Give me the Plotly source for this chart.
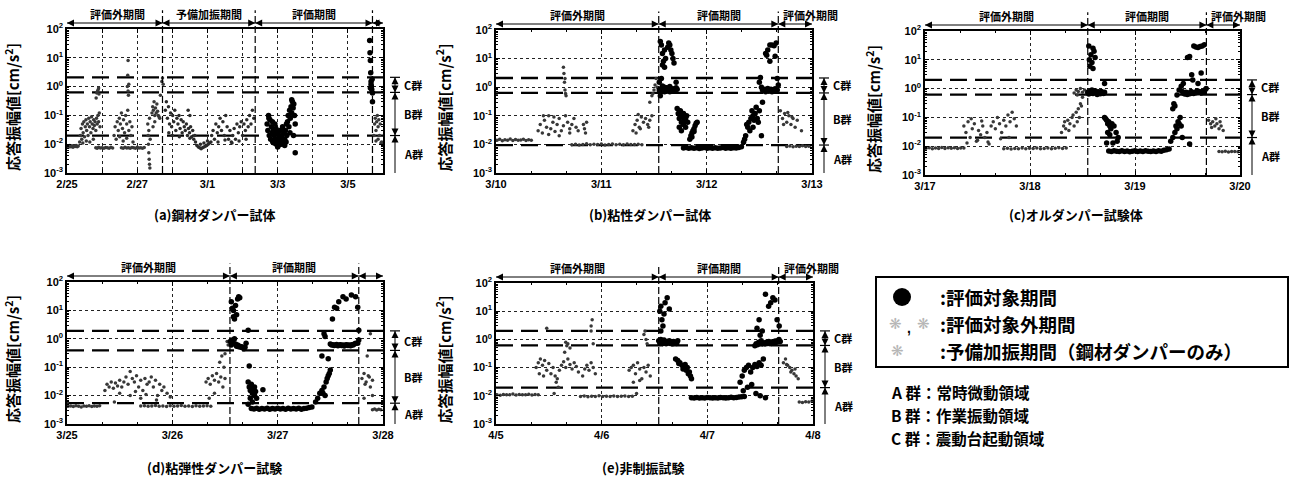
import math
import plotly.graph_objects as go

W, H = 1290, 486
JP = "Noto Sans CJK JP, Noto Sans, sans-serif"
NUM = "Liberation Sans Narrow, Liberation Sans, Arial, sans-serif"

# ---------------- data ----------------
# x = days from the first date label, y = response amplitude [cm/s^2]
A_TICKS = ["2/25", "", "2/27", "", "3/1", "", "3/3", "", "3/5", ""]
B_TICKS = ["3/10", "3/11", "3/12", "3/13"]
C_TICKS = ["3/17", "3/18", "3/19", "3/20"]
D_TICKS = ["3/25", "3/26", "3/27", "3/28"]
E_TICKS = ["4/5", "4/6", "4/7", "4/8"]

A_THR = [2.1, 0.63, 0.02]
B_THR = [2.1, 0.63, 0.0095]
C_THR = [2.0, 0.62, 0.02]
D_THR = [1.9, 0.39, 0.0054]
E_THR = [2.0, 0.61, 0.0195]

A_DIV = [2.72, 5.36, 8.7]
B_DIV = [1.545, 2.68]
C_DIV = [1.55, 2.68]
D_DIV = [1.547, 2.77]
E_DIV = [1.54, 2.675]

A_PERIODS = ["評価外期間", "予備加振期間", "評価期間", "評価外<br>期間"]
X_PERIODS = ["評価外期間", "評価期間", "評価外期間"]

A_OUT = [
    (0.02, 0.0085), (0.05, 0.008), (0.08, 0.009), (0.11, 0.0082), (0.14, 0.0088), (0.17, 0.0079),
    (0.2, 0.0086), (0.23, 0.0083), (0.26, 0.009), (0.29, 0.0081), (0.32, 0.0087),
    (0.36, 0.012), (0.38, 0.02), (0.4, 0.035), (0.42, 0.015), (0.44, 0.05), (0.46, 0.025), (0.48, 0.06),
    (0.5, 0.018), (0.52, 0.04), (0.54, 0.07), (0.56, 0.03), (0.58, 0.05), (0.6, 0.02), (0.62, 0.08),
    (0.64, 0.04), (0.66, 0.06), (0.68, 0.025), (0.7, 0.09), (0.72, 0.05), (0.74, 0.035), (0.76, 0.07),
    (0.78, 0.045), (0.8, 0.06), (0.82, 0.03), (0.84, 0.08), (0.86, 0.05), (0.88, 0.1), (0.9, 0.06),
    (0.92, 0.12), (0.94, 0.04), (0.45, 0.011), (0.55, 0.013), (0.65, 0.012), (0.75, 0.015),
    (0.83, 0.4), (0.85, 0.6), (0.87, 0.7), (0.89, 0.8), (0.9, 0.9), (0.91, 0.55),
    (0.82, 0.0075), (0.86, 0.0072), (0.9, 0.0078), (0.95, 0.0074), (1.0, 0.0076), (1.05, 0.0073),
    (1.1, 0.0077), (1.15, 0.0075), (1.2, 0.0072), (1.25, 0.0078), (1.3, 0.0074),
    (1.34, 0.02), (1.37, 0.04), (1.4, 0.015), (1.43, 0.06), (1.46, 0.03), (1.49, 0.08), (1.52, 0.05),
    (1.55, 0.12), (1.58, 0.035), (1.61, 0.07), (1.64, 0.025), (1.67, 0.1), (1.7, 0.05), (1.73, 0.15),
    (1.76, 0.03), (1.79, 0.06), (1.82, 0.02), (1.85, 0.04), (1.88, 0.012), (1.5, 0.018), (1.6, 0.013),
    (1.7, 0.016), (1.72, 1.0), (1.74, 0.7), (1.75, 0.5), (1.73, 2.5), (1.74, 8.0), (1.76, 1.2),
    (1.55, 0.0075), (1.6, 0.0072), (1.65, 0.0078), (1.7, 0.0074), (1.75, 0.0076), (1.8, 0.0073),
    (1.85, 0.0077), (1.9, 0.0075), (1.95, 0.0072), (2.0, 0.0078), (2.05, 0.0074), (2.1, 0.0076),
    (2.15, 0.0073), (2.2, 0.0077),
    (2.3, 0.05), (2.31, 0.02), (2.32, 0.01), (2.33, 0.005), (2.34, 0.003), (2.35, 0.002), (2.36, 0.0015),
    (2.33, 0.03), (2.35, 0.08), (2.37, 0.015),
    (2.42, 0.12), (2.44, 0.2), (2.46, 0.15), (2.48, 0.3), (2.5, 0.1), (2.52, 0.18), (2.54, 0.12),
    (2.56, 0.25), (2.58, 0.14), (2.6, 0.1), (2.62, 0.09), (2.64, 0.08), (2.45, 0.04), (2.5, 0.06),
    (2.66, 0.5), (2.7, 1.5), (2.72, 2.0), (2.74, 1.2),
    (8.74, 0.02), (8.76, 0.05), (8.78, 0.08), (8.8, 0.03), (8.82, 0.06), (8.84, 0.1), (8.86, 0.04),
    (8.88, 0.07), (8.9, 0.02), (8.92, 0.05), (8.94, 0.011), (8.96, 0.012), (8.98, 0.01), (8.8, 0.013),
    (8.86, 0.015),
]
A_PRE = [
    (2.8, 0.15), (2.83, 0.3), (2.86, 0.08), (2.89, 0.2), (2.92, 0.05), (2.95, 0.12), (2.98, 0.04),
    (3.01, 0.1), (3.04, 0.06), (3.07, 0.15), (3.1, 0.03), (3.13, 0.08), (3.16, 0.05), (3.19, 0.1),
    (3.22, 0.035), (3.25, 0.07), (3.28, 0.025), (3.31, 0.06), (3.34, 0.04), (3.37, 0.03), (3.4, 0.05),
    (3.43, 0.02), (3.46, 0.035), (3.49, 0.025), (3.52, 0.04), (3.55, 0.018), (3.58, 0.03), (3.61, 0.015),
    (3.64, 0.02), (2.9, 0.025), (3.0, 0.02), (3.2, 0.018), (3.5, 0.016), (3.45, 0.15), (3.5, 0.1),
    (3.66, 0.012), (3.7, 0.009), (3.74, 0.008), (3.78, 0.0075), (3.82, 0.007), (3.86, 0.0075),
    (3.9, 0.008), (3.94, 0.0085), (3.98, 0.009), (4.02, 0.01), (4.06, 0.011), (4.1, 0.012),
    (3.8, 0.01), (3.9, 0.011), (4.0, 0.013),
    (4.12, 0.02), (4.16, 0.03), (4.2, 0.015), (4.24, 0.05), (4.28, 0.025), (4.32, 0.04), (4.36, 0.08),
    (4.4, 0.03), (4.44, 0.06), (4.48, 0.02), (4.52, 0.1), (4.56, 0.04), (4.6, 0.015), (4.64, 0.03),
    (4.68, 0.012), (4.72, 0.02), (4.76, 0.035), (4.8, 0.015), (4.84, 0.05), (4.88, 0.025), (4.92, 0.04),
    (4.96, 0.06), (5.0, 0.02), (5.04, 0.05), (5.08, 0.03), (5.12, 0.07), (5.16, 0.04), (5.2, 0.1),
    (5.24, 0.05), (5.28, 0.15), (5.32, 0.08), (4.3, 0.012), (4.5, 0.014), (4.7, 0.011), (4.9, 0.013),
    (5.1, 0.015),
]
A_EVAL = [
    (5.7, 0.05), (5.72, 0.03), (5.74, 0.1), (5.76, 0.02), (5.78, 0.07), (5.8, 0.015), (5.82, 0.04),
    (5.84, 0.025), (5.86, 0.012), (5.88, 0.03), (5.9, 0.02), (5.92, 0.05), (5.94, 0.015), (5.96, 0.01),
    (5.98, 0.025), (6.0, 0.012), (6.02, 0.009), (6.04, 0.02), (6.06, 0.03), (6.08, 0.015), (6.1, 0.01),
    (6.12, 0.02), (6.14, 0.04), (6.16, 0.012), (6.18, 0.025), (6.2, 0.015), (6.22, 0.03), (6.24, 0.012),
    (6.26, 0.02), (5.75, 0.08), (5.85, 0.06), (5.95, 0.035), (6.05, 0.015), (6.15, 0.03), (6.25, 0.05),
    (5.9, 0.011), (6.0, 0.008), (6.1, 0.018), (6.2, 0.009),
    (6.28, 0.06), (6.3, 0.1), (6.32, 0.04), (6.34, 0.15), (6.36, 0.08), (6.38, 0.2), (6.4, 0.12),
    (6.42, 0.3), (6.44, 0.18), (6.46, 0.25), (6.48, 0.1), (6.5, 0.05), (6.35, 0.025), (6.45, 0.02),
    (6.4, 0.35), (6.5, 0.005),
    (8.62, 40), (8.63, 15), (8.64, 8), (8.65, 3), (8.66, 1.5), (8.67, 1.0), (8.68, 0.8), (8.69, 1.8),
    (8.7, 0.3), (8.64, 0.9), (8.66, 1.2), (8.7, 0.6),
]

B_OUT = [
    (0.01, 0.014), (0.035, 0.015), (0.06, 0.0135), (0.085, 0.0145), (0.11, 0.014), (0.135, 0.0155),
    (0.16, 0.0138), (0.185, 0.0148), (0.21, 0.014), (0.235, 0.0142), (0.26, 0.015), (0.285, 0.0136),
    (0.31, 0.0145), (0.335, 0.014), (0.005, 0.6),
    (0.4, 0.03), (0.42, 0.05), (0.44, 0.025), (0.46, 0.07), (0.48, 0.04), (0.5, 0.1), (0.52, 0.035),
    (0.54, 0.06), (0.56, 0.028), (0.58, 0.05), (0.6, 0.08), (0.62, 0.03), (0.64, 0.045), (0.66, 0.1),
    (0.68, 0.06), (0.7, 0.035), (0.72, 0.05), (0.74, 0.08), (0.76, 0.04), (0.78, 0.03), (0.5, 0.022),
    (0.6, 0.02), (0.45, 0.1), (0.55, 0.09), (0.7, 0.025), (0.83, 0.05), (0.84, 0.035), (0.85, 0.025),
    (0.86, 0.06),
    (0.64, 5.0), (0.645, 3.0), (0.65, 1.5), (0.655, 0.8), (0.66, 0.6), (0.665, 0.5), (0.655, 2.0),
    (0.72, 0.0098), (0.755, 0.0102), (0.79, 0.0095), (0.825, 0.01), (0.86, 0.0105), (0.895, 0.0097),
    (0.93, 0.0101), (0.965, 0.0099), (1.0, 0.0104), (1.035, 0.0096), (1.07, 0.01), (1.105, 0.0103),
    (1.14, 0.0098), (1.175, 0.0101), (1.21, 0.0097), (1.245, 0.0104), (1.28, 0.01), (1.315, 0.0099),
    (1.35, 0.0102), (1.385, 0.0097),
    (1.3, 0.03), (1.32, 0.05), (1.34, 0.07), (1.36, 0.04), (1.38, 0.09), (1.4, 0.06), (1.42, 0.08),
    (1.44, 0.05), (1.46, 0.07), (1.48, 0.1), (1.33, 0.025), (1.37, 0.035), (1.45, 0.04), (1.35, 0.11),
    (1.46, 0.3), (1.48, 0.5), (1.5, 0.8), (1.51, 1.2), (1.52, 2.0), (1.49, 0.6), (1.53, 1.0),
    (2.7, 0.15), (2.72, 0.08), (2.74, 0.12), (2.76, 0.06), (2.78, 0.1), (2.8, 0.05), (2.82, 0.08),
    (2.84, 0.04), (2.86, 0.07), (2.73, 0.05), (2.77, 0.13), (2.81, 0.09), (2.9, 0.03),
    (2.76, 0.0085), (2.79, 0.0088), (2.82, 0.0083), (2.85, 0.0087), (2.88, 0.0084), (2.91, 0.0089),
    (2.94, 0.0085), (2.97, 0.0086),
]
B_EVAL = [
    (1.55, 0.8), (1.56, 0.7), (1.57, 0.9), (1.58, 0.75), (1.59, 0.85), (1.6, 0.7), (1.61, 0.8),
    (1.62, 0.72), (1.63, 0.9), (1.64, 0.78), (1.65, 0.7), (1.66, 0.82), (1.67, 0.75), (1.68, 0.88),
    (1.69, 0.72), (1.7, 0.8), (1.71, 0.95), (1.72, 0.85), (1.55, 1.5), (1.56, 0.5), (1.57, 2.0),
    (1.58, 1.1), (1.6, 1.0), (1.62, 0.95), (1.65, 1.05),
    (1.56, 40), (1.57, 30), (1.58, 15), (1.59, 8), (1.6, 5), (1.61, 10), (1.6, 20), (1.58, 6),
    (1.64, 35), (1.65, 30), (1.66, 20), (1.67, 15), (1.68, 10), (1.69, 7), (1.63, 25), (1.71, 1.5),
    (1.72, 0.18), (1.73, 0.12), (1.74, 0.08), (1.75, 0.1), (1.76, 0.06), (1.77, 0.09), (1.78, 0.05),
    (1.79, 0.07), (1.8, 0.04), (1.81, 0.1), (1.74, 0.04), (1.76, 0.03), (1.75, 0.15), (1.78, 0.12),
    (1.8, 0.08), (1.82, 0.06),
    (1.84, 0.015), (1.85, 0.02), (1.86, 0.025), (1.87, 0.03), (1.88, 0.035), (1.89, 0.045), (1.9, 0.055),
    (1.91, 0.06), (1.86, 0.018), (1.88, 0.028),
    (1.78, 0.0075), (1.805, 0.0078), (1.83, 0.0073), (1.855, 0.0076), (1.88, 0.0074), (1.905, 0.0077),
    (1.93, 0.0072), (1.955, 0.0075), (1.98, 0.0078), (2.005, 0.0073), (2.03, 0.0076), (2.055, 0.0074),
    (2.08, 0.0077), (2.105, 0.0073), (2.13, 0.0075), (2.155, 0.0078), (2.18, 0.0074), (2.205, 0.0076),
    (2.23, 0.0073), (2.255, 0.0077), (2.28, 0.0075), (2.305, 0.0078), (2.33, 0.0082),
    (2.35, 0.012), (2.37, 0.02), (2.39, 0.04), (2.4, 0.06), (2.42, 0.08), (2.44, 0.1), (2.46, 0.12),
    (2.48, 0.08), (2.5, 0.15), (2.38, 0.05), (2.41, 0.03), (2.43, 0.15), (2.45, 0.07), (2.47, 0.2),
    (2.49, 0.06), (2.36, 0.015), (2.44, 0.04), (2.52, 0.02), (2.53, 0.3),
    (2.5, 1.5), (2.51, 2.2), (2.52, 1.0), (2.53, 0.8), (2.54, 0.75), (2.55, 0.85), (2.56, 0.7),
    (2.57, 0.8), (2.58, 0.9), (2.59, 0.72), (2.6, 0.78), (2.61, 0.85), (2.62, 0.7), (2.63, 0.8),
    (2.64, 0.75), (2.65, 0.88), (2.66, 0.72), (2.67, 0.8), (2.68, 1.2),
    (2.56, 15), (2.57, 13), (2.58, 20), (2.6, 30), (2.62, 30), (2.64, 28), (2.66, 35), (2.6, 8),
    (2.65, 12), (2.67, 2.0),
]

C_OUT = [
    (0.01, 0.0085), (0.04, 0.0088), (0.07, 0.0082), (0.1, 0.0087), (0.13, 0.0084), (0.16, 0.009),
    (0.19, 0.0083), (0.22, 0.0088), (0.25, 0.0085), (0.28, 0.0089), (0.31, 0.0084), (0.34, 0.0087),
    (0.37, 0.0086),
    (0.37, 0.05), (0.39, 0.03), (0.41, 0.07), (0.43, 0.02), (0.45, 0.04), (0.47, 0.06), (0.49, 0.015),
    (0.51, 0.035), (0.53, 0.025), (0.55, 0.05), (0.57, 0.02), (0.59, 0.03), (0.61, 0.012), (0.63, 0.05),
    (0.65, 0.07), (0.67, 0.04), (0.69, 0.1), (0.71, 0.06), (0.73, 0.03), (0.75, 0.08), (0.77, 0.05),
    (0.79, 0.12), (0.81, 0.07), (0.83, 0.15), (0.85, 0.09), (0.87, 0.05), (0.4, 0.013), (0.5, 0.016),
    (0.6, 0.014), (0.72, 0.018), (0.44, 0.09), (0.54, 0.075), (0.8, 0.02),
    (0.75, 0.0082), (0.785, 0.0085), (0.82, 0.008), (0.855, 0.0084), (0.89, 0.0081), (0.925, 0.0086),
    (0.96, 0.0082), (0.995, 0.0085), (1.03, 0.0083), (1.065, 0.0087), (1.1, 0.0081), (1.135, 0.0084),
    (1.17, 0.0086), (1.205, 0.0082), (1.24, 0.0085), (1.275, 0.0088), (1.31, 0.0084), (1.345, 0.0086),
    (1.3, 0.03), (1.32, 0.05), (1.34, 0.04), (1.36, 0.08), (1.38, 0.06), (1.4, 0.1), (1.42, 0.05),
    (1.44, 0.15), (1.46, 0.2), (1.48, 0.3), (1.5, 0.5), (1.33, 0.07), (1.37, 0.035), (1.41, 0.12),
    (1.45, 0.07), (1.47, 0.1), (1.49, 0.25),
    (1.42, 0.7), (1.44, 0.9), (1.46, 0.8), (1.48, 1.0), (1.5, 0.75), (1.52, 0.9), (1.54, 0.7), (1.45, 0.6),
    (2.7, 0.08), (2.72, 0.06), (2.74, 0.07), (2.76, 0.05), (2.78, 0.06), (2.8, 0.04), (2.82, 0.05),
    (2.84, 0.035), (2.73, 0.045), (2.77, 0.09), (2.81, 0.07),
    (2.8, 0.0066), (2.83, 0.0064), (2.86, 0.0067), (2.89, 0.0063), (2.92, 0.0066), (2.95, 0.0065),
    (2.98, 0.0064),
]
C_EVAL = [
    (1.56, 30), (1.565, 10), (1.57, 6), (1.58, 15), (1.59, 8), (1.6, 25), (1.61, 20), (1.62, 12), (1.6, 5),
    (1.55, 0.75), (1.56, 0.65), (1.57, 0.8), (1.58, 0.7), (1.59, 0.9), (1.6, 0.68), (1.61, 0.75),
    (1.62, 0.85), (1.63, 0.7), (1.64, 0.62), (1.65, 0.78), (1.66, 0.7), (1.67, 0.66), (1.68, 0.8),
    (1.69, 0.72), (1.7, 0.68), (1.71, 0.75), (1.71, 1.5),
    (1.71, 0.1), (1.72, 0.09), (1.73, 0.08), (1.74, 0.06), (1.75, 0.07), (1.76, 0.05), (1.77, 0.04),
    (1.78, 0.06), (1.8, 0.05), (1.82, 0.03), (1.84, 0.02), (1.74, 0.03), (1.76, 0.025), (1.73, 0.013),
    (1.79, 0.013), (1.83, 0.015),
    (1.75, 0.0068), (1.775, 0.0066), (1.8, 0.007), (1.825, 0.0067), (1.85, 0.0065), (1.875, 0.0069),
    (1.9, 0.0066), (1.925, 0.0068), (1.95, 0.0064), (1.975, 0.0067), (2.0, 0.0069), (2.025, 0.0065),
    (2.05, 0.0068), (2.075, 0.0066), (2.1, 0.007), (2.125, 0.0067), (2.15, 0.0065), (2.175, 0.0068),
    (2.2, 0.0066), (2.225, 0.0069), (2.25, 0.0067), (2.275, 0.0072), (2.3, 0.0075), (2.325, 0.008),
    (2.34, 0.015), (2.36, 0.02), (2.38, 0.03), (2.39, 0.05), (2.4, 0.04), (2.41, 0.07), (2.42, 0.06),
    (2.43, 0.1), (2.44, 0.05), (2.36, 0.2), (2.37, 0.3), (2.38, 0.25), (2.4, 0.6), (2.42, 0.9),
    (2.44, 1.2), (2.46, 1.5), (2.45, 0.02), (2.52, 0.012),
    (2.45, 0.8), (2.462, 0.7), (2.474, 0.65), (2.486, 0.75), (2.498, 0.62), (2.51, 0.7), (2.522, 0.66),
    (2.534, 0.8), (2.546, 0.72), (2.558, 0.68), (2.57, 0.75), (2.582, 0.7), (2.594, 0.85), (2.606, 0.72),
    (2.618, 0.78), (2.63, 0.7), (2.642, 0.8), (2.654, 0.75), (2.666, 0.9), (2.678, 1.0),
    (2.5, 12), (2.52, 13), (2.54, 3), (2.56, 30), (2.58, 28), (2.6, 27), (2.62, 29), (2.64, 30),
    (2.66, 33), (2.55, 2.0), (2.63, 3.5), (2.6, 1.5),
]

D_OUT = [
    (0.005, 0.006), (0.01, 0.0042), (0.035, 0.0043), (0.06, 0.0041), (0.085, 0.0044), (0.11, 0.0042),
    (0.135, 0.004), (0.16, 0.0043), (0.185, 0.0042), (0.21, 0.0044), (0.235, 0.0041), (0.26, 0.0043),
    (0.285, 0.0042), (0.31, 0.0044),
    (0.36, 0.015), (0.38, 0.025), (0.4, 0.02), (0.42, 0.03), (0.44, 0.018), (0.46, 0.028), (0.48, 0.022),
    (0.5, 0.035), (0.52, 0.02), (0.54, 0.03), (0.56, 0.045), (0.58, 0.025), (0.6, 0.07), (0.62, 0.04),
    (0.64, 0.03), (0.66, 0.05), (0.68, 0.02), (0.7, 0.035), (0.72, 0.015), (0.74, 0.04), (0.76, 0.025),
    (0.78, 0.03), (0.8, 0.045), (0.82, 0.02), (0.84, 0.035), (0.86, 0.01), (0.88, 0.025), (0.9, 0.015),
    (0.92, 0.02), (0.95, 0.012), (0.98, 0.009), (0.5, 0.012), (0.6, 0.01), (0.7, 0.008), (0.45, 0.006),
    (0.65, 0.014), (0.75, 0.011), (0.85, 0.007),
    (0.7, 0.0043), (0.735, 0.0044), (0.77, 0.0042), (0.805, 0.0043), (0.84, 0.0045), (0.875, 0.0042),
    (0.91, 0.0043), (0.945, 0.0041), (0.98, 0.0044), (1.015, 0.0042), (1.05, 0.0043), (1.085, 0.0045),
    (1.12, 0.0042), (1.155, 0.0043), (1.19, 0.0041), (1.225, 0.0044), (1.26, 0.0042), (1.295, 0.0043),
    (1.33, 0.0044), (1.365, 0.0042),
    (1.32, 0.03), (1.34, 0.04), (1.36, 0.025), (1.38, 0.05), (1.4, 0.035), (1.42, 0.06), (1.44, 0.03),
    (1.46, 0.045), (1.48, 0.02), (1.5, 0.04), (1.35, 0.008), (1.4, 0.012), (1.45, 0.15), (1.47, 0.25),
    (1.5, 0.3), (1.52, 0.8), (1.53, 0.6), (1.49, 0.1),
    (2.8, 0.04), (2.82, 0.06), (2.84, 0.03), (2.86, 0.05), (2.88, 0.02), (2.9, 0.035), (2.83, 0.025),
    (2.87, 0.045), (2.85, 0.25), (2.88, 1.5), (2.82, 0.008), (2.9, 0.01),
    (2.9, 0.0032), (2.92, 0.0034), (2.94, 0.0031), (2.96, 0.0033), (2.98, 0.0032),
]
D_EVAL = [
    (1.56, 20), (1.57, 12), (1.58, 6), (1.59, 5), (1.6, 15), (1.62, 25), (1.63, 30), (1.64, 28),
    (1.61, 7), (1.58, 10),
    (1.55, 0.8), (1.56, 0.6), (1.57, 0.9), (1.58, 0.7), (1.59, 1.0), (1.6, 0.65), (1.61, 0.55),
    (1.62, 0.6), (1.63, 0.52), (1.64, 0.55), (1.65, 0.5), (1.66, 0.52), (1.67, 0.48), (1.68, 0.45),
    (1.69, 0.5), (1.7, 0.7), (1.72, 2.0), (1.73, 0.11),
    (1.72, 0.03), (1.73, 0.02), (1.74, 0.015), (1.75, 0.025), (1.76, 0.012), (1.77, 0.018), (1.78, 0.01),
    (1.79, 0.014), (1.8, 0.008), (1.74, 0.008), (1.76, 0.006), (1.72, 0.005), (1.78, 0.02), (1.86, 0.016),
    (1.75, 0.0035), (1.775, 0.0034), (1.8, 0.0036), (1.825, 0.0033), (1.85, 0.0035), (1.875, 0.0034),
    (1.9, 0.0036), (1.925, 0.0033), (1.95, 0.0035), (1.975, 0.0034), (2.0, 0.0036), (2.025, 0.0034),
    (2.05, 0.0035), (2.075, 0.0033), (2.1, 0.0036), (2.125, 0.0034), (2.15, 0.0035), (2.175, 0.0034),
    (2.2, 0.0036), (2.225, 0.0033), (2.25, 0.0035), (2.275, 0.0036), (2.3, 0.0038), (2.325, 0.004),
    (2.36, 0.006), (2.38, 0.008), (2.4, 0.012), (2.42, 0.015), (2.44, 0.02), (2.46, 0.03), (2.48, 0.05),
    (2.5, 0.08), (2.49, 0.06), (2.47, 0.04), (2.45, 0.01), (2.43, 0.012),
    (2.42, 0.25), (2.48, 0.2), (2.45, 1.2), (2.44, 1.5),
    (2.5, 0.65), (2.512, 0.6), (2.524, 0.62), (2.536, 0.58), (2.548, 0.6), (2.56, 0.63), (2.572, 0.57),
    (2.584, 0.6), (2.596, 0.62), (2.608, 0.58), (2.62, 0.6), (2.632, 0.56), (2.644, 0.6), (2.656, 0.62),
    (2.668, 0.58), (2.68, 0.6), (2.692, 0.57), (2.704, 0.62), (2.716, 0.6), (2.728, 0.65), (2.74, 0.7),
    (2.52, 5), (2.54, 13), (2.56, 12), (2.58, 20), (2.62, 30), (2.65, 25), (2.7, 35), (2.74, 30),
    (2.76, 13), (2.77, 2.0), (2.76, 0.7), (2.77, 0.9),
]

E_OUT = [
    (0.01, 0.011), (0.04, 0.0105), (0.07, 0.0112), (0.1, 0.0108), (0.13, 0.011), (0.16, 0.0115),
    (0.19, 0.0106), (0.22, 0.0112), (0.25, 0.0109), (0.28, 0.011), (0.31, 0.0114), (0.34, 0.0107),
    (0.37, 0.0111), (0.4, 0.011),
    (0.38, 0.1), (0.4, 0.15), (0.42, 0.2), (0.44, 0.12), (0.46, 0.18), (0.48, 0.08), (0.5, 0.14),
    (0.52, 0.06), (0.54, 0.1), (0.56, 0.05), (0.58, 0.04), (0.6, 0.08), (0.62, 0.12), (0.64, 0.16),
    (0.66, 0.1), (0.68, 0.2), (0.7, 0.13), (0.72, 0.09), (0.74, 0.15), (0.76, 0.11), (0.78, 0.07),
    (0.82, 0.05), (0.84, 0.09), (0.86, 0.12), (0.88, 0.08), (0.9, 0.15), (0.92, 0.1), (0.94, 0.06),
    (0.41, 0.06), (0.45, 0.05), (0.57, 0.03), (0.59, 0.02), (0.55, 0.012),
    (0.48, 2.5), (0.66, 0.8), (0.67, 0.6), (0.68, 0.7), (0.7, 0.5), (0.65, 0.35), (0.9, 3.0), (0.91, 5.0),
    (0.92, 0.7), (0.9, 2.0),
    (0.8, 0.0095), (0.835, 0.0098), (0.87, 0.0093), (0.905, 0.0097), (0.94, 0.0095), (0.975, 0.01),
    (1.01, 0.0094), (1.045, 0.0097), (1.08, 0.0095), (1.115, 0.0099), (1.15, 0.0094), (1.185, 0.0096),
    (1.22, 0.0098), (1.255, 0.0095), (1.29, 0.0097),
    (1.26, 0.08), (1.28, 0.1), (1.3, 0.12), (1.32, 0.06), (1.34, 0.15), (1.36, 0.09), (1.38, 0.04),
    (1.4, 0.1), (1.42, 0.07), (1.44, 0.12), (1.46, 0.05), (1.3, 0.03), (1.36, 0.035), (1.33, 0.012),
    (1.4, 1.5), (1.42, 1.0), (1.43, 0.7), (1.41, 2.0),
    (2.72, 0.15), (2.74, 0.2), (2.76, 0.12), (2.78, 0.1), (2.8, 0.08), (2.82, 0.06), (2.84, 0.05),
    (2.86, 0.04), (2.75, 0.13), (2.79, 0.07), (2.83, 0.09),
    (2.87, 0.006), (2.9, 0.0058), (2.93, 0.0062), (2.96, 0.006), (2.99, 0.0065),
]
E_EVAL = [
    (1.55, 10), (1.56, 15), (1.57, 5), (1.58, 3), (1.59, 8), (1.6, 20), (1.62, 30), (1.64, 12), (1.56, 2.0),
    (1.54, 0.9), (1.55, 0.75), (1.56, 1.0), (1.57, 0.8), (1.58, 0.72), (1.59, 0.95), (1.6, 0.78),
    (1.61, 0.7), (1.62, 0.85), (1.63, 0.75), (1.64, 0.9), (1.65, 0.72), (1.66, 0.8), (1.67, 0.7),
    (1.68, 0.85), (1.69, 0.75), (1.7, 0.8), (1.71, 0.72), (1.72, 0.9),
    (1.7, 0.2), (1.72, 0.18), (1.74, 0.15), (1.76, 0.12), (1.78, 0.1), (1.8, 0.08), (1.82, 0.06),
    (1.84, 0.05), (1.85, 0.04), (1.73, 0.14), (1.77, 0.09), (1.81, 0.1), (1.83, 0.07), (1.79, 0.13),
    (1.85, 0.0085), (1.875, 0.0083), (1.9, 0.0087), (1.925, 0.0084), (1.95, 0.0086), (1.975, 0.0083),
    (2.0, 0.0087), (2.025, 0.0085), (2.05, 0.0083), (2.075, 0.0086), (2.1, 0.0084), (2.125, 0.0087),
    (2.15, 0.0085), (2.175, 0.0083), (2.2, 0.0086), (2.225, 0.0088), (2.25, 0.0085), (2.275, 0.0087),
    (2.3, 0.009), (2.325, 0.0093), (2.35, 0.0095),
    (2.31, 0.03), (2.33, 0.05), (2.35, 0.08), (2.37, 0.1), (2.39, 0.12), (2.41, 0.07), (2.43, 0.1),
    (2.45, 0.13), (2.47, 0.11), (2.49, 0.15), (2.51, 0.12), (2.53, 0.2), (2.34, 0.015), (2.38, 0.02),
    (2.42, 0.025), (2.46, 0.012), (2.5, 0.01), (2.55, 0.0085),
    (2.45, 0.6), (2.462, 0.7), (2.474, 0.65), (2.486, 0.8), (2.498, 0.72), (2.51, 0.9), (2.522, 0.7),
    (2.534, 0.75), (2.546, 0.68), (2.558, 0.8), (2.57, 0.72), (2.582, 0.85), (2.594, 0.7), (2.606, 0.78),
    (2.618, 0.82), (2.63, 0.75), (2.642, 0.88), (2.654, 0.8), (2.666, 0.9), (2.678, 1.0), (2.69, 0.85),
    (2.47, 2.5), (2.49, 5), (2.52, 2.0), (2.55, 40), (2.58, 15), (2.6, 20), (2.62, 30), (2.64, 25),
    (2.66, 5), (2.68, 3), (2.5, 1.4),
]

LEGEND_LINES = [":評価対象期間", ":評価対象外期間", ":予備加振期間（鋼材ダンパーのみ）"]
GROUP_LINES = ["A 群：常時微動領域", "B 群：作業振動領域", "C 群：震動台起動領域"]

# ---------------- panel configuration (layout only) ----------------
PANELS = [
    dict(box=(67, 29, 383, 173), ndays=9, ticks=A_TICKS, out=A_OUT, pre=A_PRE, ev=A_EVAL, thr=A_THR,
         div=A_DIV, periods=A_PERIODS, lab_x=[1.45, None, None, 9.34], last_y=1.062,
         cap="(a)鋼材ダンパー試体", cap_xy=(215, 214), ttl_x=12, minor=None),
    dict(box=(496, 30, 812, 173), ndays=3, ticks=B_TICKS, out=B_OUT, pre=[], ev=B_EVAL, thr=B_THR,
         div=B_DIV, periods=X_PERIODS, lab_x=[None, None, 2.99], last_y=None,
         cap="(b)粘性ダンパー試体", cap_xy=(650, 214), ttl_x=443, minor=1 / 3),
    dict(box=(925, 31, 1240, 175), ndays=3, ticks=C_TICKS, out=C_OUT, pre=[], ev=C_EVAL, thr=C_THR,
         div=C_DIV, periods=X_PERIODS, lab_x=[None, None, 2.99], last_y=None,
         cap="(c)オルダンパー試験体", cap_xy=(1076, 214), ttl_x=873, minor=1 / 3),
    dict(box=(67, 282, 383, 424), ndays=3, ticks=D_TICKS, out=D_OUT, pre=[], ev=D_EVAL, thr=D_THR,
         div=D_DIV, periods=X_PERIODS, lab_x=[None, None, 3.05], last_y=None,
         cap="(d)粘弾性ダンパー試験", cap_xy=(214, 467), ttl_x=12, minor=1 / 3),
    dict(box=(496, 283, 813, 424), ndays=3, ticks=E_TICKS, out=E_OUT, pre=[], ev=E_EVAL, thr=E_THR,
         div=E_DIV, periods=X_PERIODS, lab_x=[None, None, 2.99], last_y=None,
         cap="(e)非制振試験", cap_xy=(643, 467), ttl_x=443, minor=1 / 3),
]

Y_TICKVALS = [1e-3, 1e-2, 1e-1, 1e0, 1e1, 1e2]
Y_TICKTEXT = ["10<sup>-3</sup>", "10<sup>-2</sup>", "10<sup>-1</sup>", "10<sup>0</sup>",
              "10<sup>1</sup>", "10<sup>2</sup>"]
Y_MINOR = [m * 10 ** e for e in range(-3, 2) for m in range(2, 10)]

fig = go.Figure()
annotations = []
shapes = []


def bold(s):
    return "<b>" + s + "</b>"


def paper_text(x, y, text, size, xanchor="center", yanchor="middle", angle=0, color="black",
               family=JP, align="center"):
    annotations.append(dict(xref="paper", yref="paper", x=x / W, y=1 - y / H, text=text, showarrow=False,
                            xanchor=xanchor, yanchor=yanchor, textangle=angle, align=align,
                            font=dict(family=family, size=size, color=color)))


def hidden_axis(**kw):
    d = dict(visible=False, showgrid=False, zeroline=False, fixedrange=True, automargin=False)
    d.update(kw)
    return d


def deco(xa, ya, xs, ys, symbols):
    fig.add_trace(go.Scatter(x=xs, y=ys, xaxis=xa, yaxis=ya, mode="lines+markers", cliponaxis=False,
                             line=dict(color="black", width=1),
                             marker=dict(symbol=symbols, size=7, color="black", line=dict(width=0)),
                             hoverinfo="skip", showlegend=False))


for k, p in enumerate(PANELS, start=1):
    s = "" if k == 1 else str(k)
    xr, yr = "x" + s, "y" + s
    x0, y0, x1, y1 = p["box"]
    N = p["ndays"]
    ydom = [1 - y1 / H, 1 - y0 / H]

    fig.layout["xaxis" + s] = dict(
        domain=[x0 / W, x1 / W], anchor=yr, range=[0, N], automargin=False,
        tickmode="array", tickvals=list(range(N + 1)), ticktext=p["ticks"],
        ticks="inside", ticklen=4, tickwidth=1, tickcolor="black",
        showline=True, linecolor="black", linewidth=1.5, mirror="ticks",
        showgrid=True, gridcolor="#222", griddash="dot", gridwidth=1,
        zeroline=False, fixedrange=True,
        tickfont=dict(family=NUM, size=11, color="black", weight="bold"),
        minor=(dict(tick0=0, dtick=p["minor"], ticks="inside", ticklen=2, tickcolor="black", showgrid=False)
               if p["minor"] else None),
    )
    fig.layout["yaxis" + s] = dict(
        domain=ydom, anchor=xr, type="log", range=[-3, 2], automargin=False,
        tickmode="array", tickvals=Y_TICKVALS, ticktext=Y_TICKTEXT,
        ticks="inside", ticklen=4, tickwidth=1, tickcolor="black",
        showline=True, linecolor="black", linewidth=1.5, mirror="ticks",
        showgrid=True, gridcolor="#222", griddash="dot", gridwidth=1,
        zeroline=False, fixedrange=True,
        tickfont=dict(family=NUM, size=11, color="black", weight="bold"),
        minor=dict(tickmode="array", tickvals=Y_MINOR, ticks="inside", ticklen=2, tickcolor="black",
                   showgrid=False),
    )

    # threshold lines (A/B/C group limits)
    for t in p["thr"]:
        fig.add_trace(go.Scatter(x=[0, N], y=[t, t], mode="lines", xaxis=xr, yaxis=yr,
                                 line=dict(color="black", width=2.3, dash="17px,8px"),
                                 hoverinfo="skip", showlegend=False))

    def add_pts(pts, marker):
        if not pts:
            return
        fig.add_trace(go.Scatter(x=[q[0] for q in pts], y=[q[1] for q in pts], mode="markers",
                                 xaxis=xr, yaxis=yr, marker=marker, hoverinfo="skip", showlegend=False))

    add_pts(p["out"], dict(symbol="circle", size=3.5, color="#383838", line=dict(width=0)))
    add_pts(p["pre"], dict(symbol="circle", size=3.5, color="#2a2a2a", line=dict(width=0)))
    add_pts(p["ev"], dict(symbol="circle", size=5.5, color="black"))

    # period dividers
    for d in p["div"]:
        shapes.append(dict(type="line", xref=xr, yref=yr + " domain", x0=d, x1=d, y0=0, y1=1.13,
                           line=dict(color="black", width=1.2, dash="7px,3px")))

    # period arrows (overlay axis strip above the plot, same x scale)
    t_id = str(5 + k)
    fig.layout["xaxis" + t_id] = hidden_axis(domain=[x0 / W, x1 / W], range=[0, N], anchor="y" + t_id)
    fig.layout["yaxis" + t_id] = hidden_axis(domain=[1 - y0 / H, 1 - (y0 - 12) / H], range=[0, 1],
                                             anchor="x" + t_id)
    segs = [0] + p["div"] + [N]
    for i in range(len(segs) - 1):
        deco("x" + t_id, "y" + t_id, [segs[i], segs[i + 1]], [0.5, 0.5], ["arrow-left", "arrow-right"])
        lx = p["lab_x"][i] if p["lab_x"][i] is not None else (segs[i] + segs[i + 1]) / 2
        is_last2 = (p["last_y"] is not None and i == len(segs) - 2)
        annotations.append(dict(xref=xr, yref=yr + " domain", x=lx, xanchor="center", yanchor="middle",
                                y=p["last_y"] if is_last2 else 1.105, showarrow=False,
                                text=bold(p["periods"][i]),
                                font=dict(family=JP, size=10 if is_last2 else 11, color="black")))

    # group brackets (overlay axis strip right of the plot, same log y scale)
    r_id = str(10 + k)
    fig.layout["xaxis" + r_id] = hidden_axis(domain=[x1 / W, (x1 + 44) / W], range=[0, 44], anchor="y" + r_id)
    fig.layout["yaxis" + r_id] = hidden_axis(domain=ydom, type="log", range=[-3, 2], anchor="x" + r_id)
    hi, mid, lo = p["thr"]
    xa, ya = "x" + r_id, "y" + r_id
    deco(xa, ya, [12, 12], [hi, mid], ["arrow-up", "arrow-down"])
    deco(xa, ya, [12, 12], [mid, lo], ["arrow-up", "arrow-down"])
    deco(xa, ya, [12, 12], [lo, 1e-3], ["arrow-up", "line-ew"])
    for t in p["thr"]:
        fig.add_trace(go.Scatter(x=[7, 17], y=[t, t], xaxis=xa, yaxis=ya, mode="lines", cliponaxis=False,
                                 line=dict(color="black", width=1.2), hoverinfo="skip", showlegend=False))
    lhi, lmid, llo = [math.log10(t) for t in p["thr"]]
    for name, yv in (("C群", (lhi + lmid) / 2), ("B群", (lmid + llo) / 2), ("A群", (llo - 3) / 2)):
        annotations.append(dict(xref=xa, yref=ya, x=19, y=yv, text=bold(name), showarrow=False,
                                xanchor="left", yanchor="middle",
                                font=dict(family=JP, size=11, color="black")))

    # y-axis title and caption
    paper_text(p["ttl_x"], (y0 + y1) / 2 + 6, bold("応答振幅値[cm/s<sup>2</sup>]"), 15, angle=-90)
    cx, cy = p["cap_xy"]
    paper_text(cx, cy, bold(p["cap"]), 13)

# ---------------- legend box and notes ----------------
shapes.append(dict(type="rect", xref="paper", yref="paper", x0=876 / W, x1=1288 / W,
                   y0=1 - 367 / H, y1=1 - 277 / H, line=dict(color="black", width=2)))
shapes.append(dict(type="circle", xref="paper", yref="paper", x0=893 / W, x1=911 / W,
                   y0=1 - 306 / H, y1=1 - 288 / H, fillcolor="black", line=dict(color="black", width=0)))
for gx, gy in ((895, 324), (923, 324), (897, 351)):
    paper_text(gx, gy, "❋", 15, color="#b5b5b5", family="DejaVu Sans")
paper_text(909, 328, bold(","), 14, family=NUM)
for txt, ty in zip(LEGEND_LINES, (297, 324, 351)):
    paper_text(938, ty, bold(txt), 18.5, xanchor="left", align="left")
for txt, ty in zip(GROUP_LINES, (392, 415, 438)):
    paper_text(889, ty, bold(txt), 15.5, xanchor="left", align="left")

fig.update_layout(
    template="none",
    width=W, height=H, margin=dict(l=0, r=0, t=0, b=0, pad=0, autoexpand=False),
    paper_bgcolor="white", plot_bgcolor="white", showlegend=False,
    annotations=annotations, shapes=shapes,
    font=dict(family=JP, color="black"),
)

fig.write_html("out.html")
